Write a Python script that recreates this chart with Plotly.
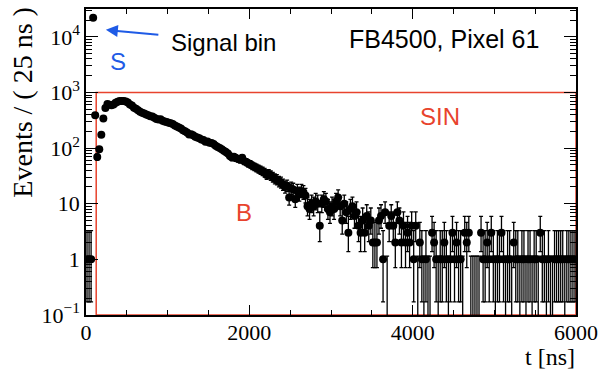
import math
import plotly.graph_objects as go

# ---- data (25 ns bins, 0..6000 ns) ----
BIN_WIDTH = 25.0
counts = [
    1, 1, 1, 22000, 390, 69, 95, 174, 340, 525,
    620, 600, 590, 610, 650, 680, 700, 705, 700, 690,
    660, 610, 580, 530, 510, 480, 450, 430, 420, 400,
    390, 375, 370, 350, 335, 325, 330, 310, 300, 295,
    285, 280, 270, 255, 245, 235, 225, 210, 200, 190,
    175, 178, 170, 160, 155, 150, 143, 140, 130, 132,
    125, 124, 118, 110, 105, 100, 95, 90, 85, 80,
    72, 68, 70, 66, 64, 62, 67, 58, 56, 53,
    51, 48, 46, 44, 42, 40, 38, 36, 33, 34,
    32, 30, 28, 27, 25, 24, 22, 20, 21, 13,
    19, 18, 12, 17, 15, 17, 16, 14, 9, 8,
    10, 9, 11, 10, 4, 10, 12, 11, 8, 7,
    9, 8, 11, 13, 9, 5, 10, 7, 3, 8,
    9, 6, 7, 4, 3, 5, 3, 6, 4, 5,
    2, 2, 2, 5, 6, 1, 7, 0, 4, 6,
    4, 2, 7, 5, 2, 4, 2, 3, 2, 4,
    1, 4, 0, 2, 1, 0, 1, 0, 0, 3,
    2, 1, 0, 1, 1, 2, 1, 0, 1, 3,
    1, 2, 1, 1, 0, 3, 2, 3, 0, 0,
    0, 0, 0, 3, 1, 1, 2, 1, 3, 1,
    0, 1, 1, 3, 1, 0, 1, 1, 0, 2,
    1, 1, 0, 1, 1, 0, 1, 1, 0, 1,
    1, 0, 3, 1, 1, 0, 1, 0, 0, 1,
    1, 1, 1, 1, 0, 1, 1, 1, 1, 1,
]
t_centers = [BIN_WIDTH * (i + 0.5) for i in range(len(counts))]

# signal-in box (SIN region)
SIN_T = [125, 6000]
SIN_Y = [0.1, 1000]

y_tickvals = [0.1, 1, 10, 100, 1000, 10000]
y_ticktext = ["10<sup>\u22121</sup>", "1", "10", "10<sup>2</sup>", "10<sup>3</sup>", "10<sup>4</sup>"]
x_tickvals = [0, 2000, 4000, 6000]

# ---- Poisson (central 68%) error bars, RooFit style ----
def poisson_interval(n):
    if n == 0:
        return 0.0, 1.1478
    lo = n * (1 - 1 / (9 * n) - 1 / (3 * math.sqrt(n))) ** 3
    m = n + 1
    up = m * (1 - 1 / (9 * m) + 1 / (3 * math.sqrt(m))) ** 3
    return n - lo, up - n

px, py, pem, pep = [], [], [], []
zx, zy, zep = [], [], []
for t, n in zip(t_centers, counts):
    lo, up = poisson_interval(n)
    if n > 0:
        px.append(t); py.append(n); pem.append(lo); pep.append(up)
    else:
        zx.append(t); zy.append(1e-4); zep.append(up - 1e-4)

fig = go.Figure()

# SIN box
fig.add_trace(go.Scatter(
    x=[SIN_T[0], SIN_T[0], SIN_T[1], SIN_T[1], SIN_T[0]],
    y=[SIN_Y[0], SIN_Y[1], SIN_Y[1], SIN_Y[0], SIN_Y[0]],
    mode="lines", line=dict(color="#e8432d", width=1.5),
    hoverinfo="skip", showlegend=False, cliponaxis=False,
))

# zero bins (upper error only)
fig.add_trace(go.Scatter(
    x=zx, y=zy, mode="markers",
    marker=dict(size=1, color="rgba(0,0,0,0)"),
    error_y=dict(type="data", symmetric=False, array=zep,
                 arrayminus=[0] * len(zx), color="black", thickness=1.3, width=2),
    showlegend=False,
))

# data points
fig.add_trace(go.Scatter(
    x=px, y=py, mode="markers",
    marker=dict(size=8, color="black"),
    error_y=dict(type="data", symmetric=False, array=pep, arrayminus=pem,
                 color="black", thickness=1.3, width=2),
    showlegend=False,
))

serif = "Liberation Serif, Times New Roman, serif"
sans = "Liberation Sans, Arial, Helvetica, sans-serif"

minor_y = [m * 10 ** e for e in range(-1, 5) for m in range(2, 10)]

fig.update_layout(
    width=605, height=371,
    margin=dict(l=86, r=25, t=7, b=56),
    paper_bgcolor="white", plot_bgcolor="white",
    font=dict(family=serif, color="black"),
    xaxis=dict(
        range=[0, 6000], tickvals=x_tickvals, ticks="inside", ticklen=10,
        tickwidth=1, tickcolor="black", showline=True, linecolor="black",
        linewidth=1.5, mirror="allticks", showgrid=False, zeroline=False,
        tickfont=dict(family=serif, size=22), ticklabelstandoff=-3,
        minor=dict(dtick=500, tick0=0, ticks="inside", ticklen=5, tickcolor="black", tickwidth=1),
    ),
    yaxis=dict(
        type="log", range=[-1, 4.5], tickvals=y_tickvals, ticktext=y_ticktext,
        ticks="inside", ticklen=12, tickwidth=1, tickcolor="black",
        showline=True, linecolor="black", linewidth=1.5, mirror="allticks",
        showgrid=False, zeroline=False,
        tickfont=dict(family=serif, size=22),
        minor=dict(tickvals=minor_y, ticks="inside", ticklen=6, tickcolor="black", tickwidth=1),
    ),
)

ann = []
ann.append(dict(text="Events / ( 25 ns )", xref="paper", yref="paper",
                x=-0.13, y=0.695, textangle=-90, showarrow=False,
                font=dict(family=serif, size=28, color="black"),
                xanchor="center", yanchor="middle"))
ann.append(dict(text="t [ns]", xref="paper", yref="paper", x=1.0, y=-0.1815,
                showarrow=False, font=dict(family=serif, size=24, color="black"),
                xanchor="right", yanchor="bottom", borderpad=0))
ann.append(dict(text="Signal bin", xref="paper", yref="paper", x=0.170, y=0.890,
                showarrow=False, font=dict(family=sans, size=24, color="black"),
                xanchor="left", yanchor="middle"))
ann.append(dict(text="FB4500, Pixel 61", xref="paper", yref="paper", x=0.929, y=0.9026,
                showarrow=False, font=dict(family=sans, size=25, color="black"),
                xanchor="right", yanchor="middle"))
ann.append(dict(text="S", xref="paper", yref="paper", x=0.0648, y=0.828,
                showarrow=False, font=dict(family=sans, size=24, color="#1f5be6"),
                xanchor="center", yanchor="middle"))
ann.append(dict(text="SIN", xref="paper", yref="paper", x=0.7227, y=0.649,
                showarrow=False, font=dict(family=sans, size=24, color="#e8432d"),
                xanchor="center", yanchor="middle"))
ann.append(dict(text="B", xref="paper", yref="paper", x=0.3219, y=0.334,
                showarrow=False, font=dict(family=sans, size=24, color="#e8432d"),
                xanchor="center", yanchor="middle"))
ann.append(dict(text="", x=243, y=4.125, xref="x", yref="y",
                showarrow=True, arrowhead=2, arrowsize=1.2, arrowwidth=2,
                arrowcolor="#1f5be6", ax=54, ay=5, axref="pixel", ayref="pixel"))
fig.update_layout(annotations=ann)

fig.write_html("out.html", config={"displayModeBar": False},
               post_script="document.body.style.margin='0';document.body.style.overflow='hidden';")
